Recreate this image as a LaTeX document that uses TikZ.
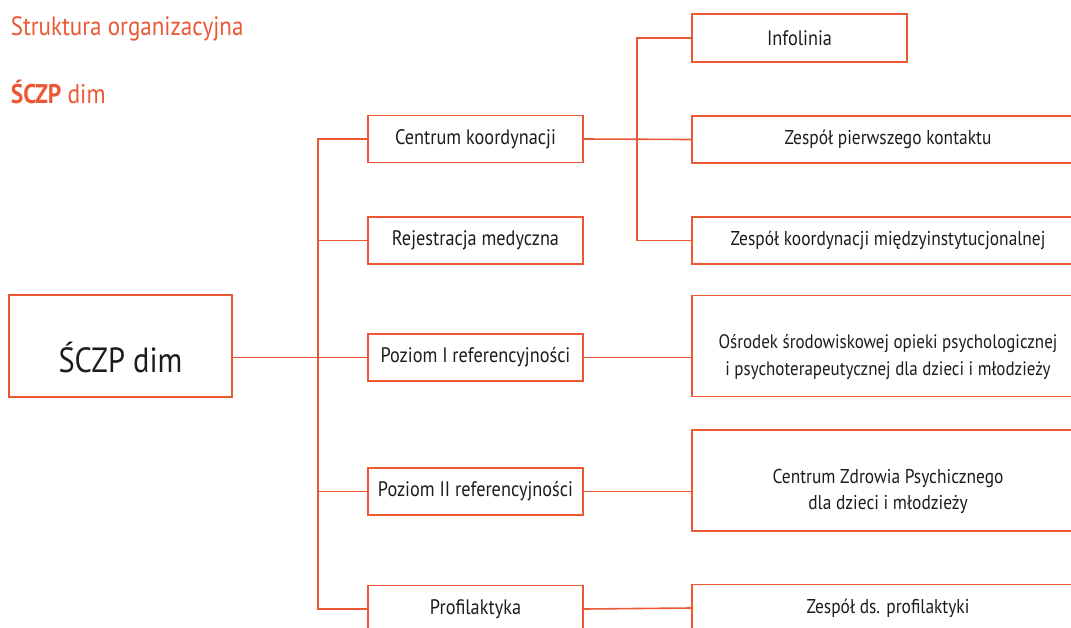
\documentclass[tikz,border=0pt]{standalone}
\usepackage{fontspec}
\setmainfont{PT Sans}[FakeStretch=0.87]
\usetikzlibrary{positioning}
\definecolor{orgorange}{RGB}{236,88,52}
\definecolor{orgtext}{RGB}{28,28,28}

\begin{document}
\begin{tikzpicture}
  [
    x=1pt, y=-1pt,
    line width=1.6pt,
    box/.style      = {draw=orgorange, rectangle, inner sep=0pt, text=orgtext,
                       font=\fontsize{21}{27}\selectfont, align=center},
    midbox/.style   = {box, minimum width=215pt, minimum height=47pt},
    rightbox/.style = {box, minimum width=392pt, minimum height=47pt,
                       font=\fontsize{20}{27}\selectfont},
    tallbox/.style  = {box, minimum width=392pt, minimum height=101pt},
    inlabel/.style  = {text=orgtext, align=center, inner sep=0pt, yshift=-11pt},
    link/.style     = {draw=orgorange},
  ]

  \useasboundingbox (0,0) rectangle (1071,627);
  \clip (0,0) rectangle (1071,627);

  % heading
  \node (title) at (10,35) [anchor=base west, inner sep=0pt, text=orgorange,
    font=\fontsize{26.5}{30}\selectfont] {Struktura organizacyjna};
  \node (subtitle) at (10,103) [anchor=base west, inner sep=0pt, text=orgorange,
    font=\fontsize{27}{30}\selectfont] {\textbf{ŚCZP} dim};

  % columns
  \def\midx{475.5}
  \def\rightx{888}

  \node (sczp) at (120.5,346) [box, minimum width=223pt, minimum height=102pt,
    label={[inlabel, font=\fontsize{35}{38}\selectfont]center:ŚCZP dim}] {};

  \node (cent) at (\midx,139)   [midbox] {Centrum koordynacji};
  \node (rej)  at (\midx,240.5) [midbox] {Rejestracja medyczna};
  \node (poz1) at (\midx,357.5) [midbox] {Poziom I referencyjności};
  \node (poz2) at (\midx,491.5) [midbox] {Poziom II referencyjności};
  \node (prof) at (\midx,609)   [midbox] {Profilaktyka};

  \node (info) at (799.5,38)    [midbox, minimum height=48pt] {Infolinia};
  \node (zpk)  at (\rightx,139.5) [rightbox] {Zespół pierwszego kontaktu};
  \node (zkm)  at (\rightx,240.5) [rightbox] {Zespół koordynacji międzyinstytucjonalnej};
  \node (osr)  at (\rightx,346) [tallbox,
    label={[inlabel, font=\fontsize{19.5}{27}\selectfont]center:Ośrodek środowiskowej opieki psychologicznej\\i psychoterapeutycznej dla dzieci i młodzieży}] {};
  \node (czp)  at (\rightx,480.5) [tallbox,
    label={[inlabel, font=\fontsize{20}{26}\selectfont]center:Centrum Zdrowia Psychicznego\\dla dzieci i młodzieży}] {};
  \node (zdp)  at (\rightx,608) [rightbox] {Zespół ds. profilaktyki};

  % trunks
  \coordinate (ltrunk) at (318,0);
  \coordinate (rtrunk) at (637,0);

  \draw[link] (cent.west) -- (cent.west -| ltrunk) -- (prof.west -| ltrunk) -- (prof.west);
  \foreach \n in {rej,poz2}
    \draw[link] (\n.west -| ltrunk) -- (\n.west);
  \draw[link] (sczp.east |- poz1.west) -- (poz1.west);

  \draw[link] (cent.east) -- (zpk.west);
  \draw[link] (info.west) -- (info.west -| rtrunk) -- (zkm.west -| rtrunk) -- (zkm.west);

  \draw[link] (poz1.east) -- (poz1.east -| osr.west);
  \draw[link] (poz2.east) -- (poz2.east -| czp.west);
  \draw[link] (prof.east) -- (zdp.west);

\end{tikzpicture}
\end{document}
